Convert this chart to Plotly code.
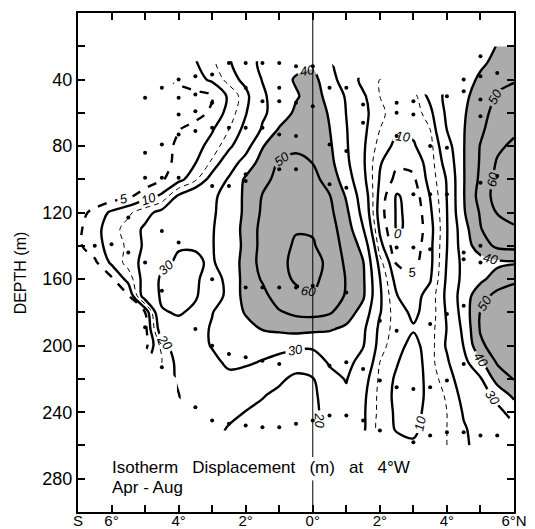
import plotly.graph_objects as go

# ---------------- data ----------------
lats = [-7.0, -6.5, -6.0, -5.5, -5.0, -4.5, -4.0, -3.5, -3.0, -2.5, -2.0, -1.5, -1.0,
        -0.5, 0.0, 0.5, 1.0, 1.5, 2.0, 2.5, 3.0, 3.5, 4.0, 4.5, 5.0, 5.5, 6.0]
depths = list(range(20, 270, 10))

# shallowest sampled depth of each latitude column (m)
top_depth = [110, 100, 60, 50, 50, 50, 40, 30, 30, 30, 30, 30, 30,
             30, 30, 30, 40, 40, 40, 50, 50, 50, 50, 40, 20, 20, 20]

# isotherm displacement (m) profiles, from top_depth downward every 10 m
p_s70 = [1, 3, 4, 4, 2]
p_s65 = [1, 1, 6.5, 8, 8, 4, 2]
p_s60 = [1, 1, 1, 1, 1, 2, 11, 13, 12, 11, 4, 1.5]
p_s55 = [1, 1, 1, 1, 1, 1.5, 4, 14, 17, 16, 17, 12, 4.5, 1]
p_s50 = [2, 2, 1.5, 1.5, 1.5, 2, 7.5, 18, 21, 21, 22, 23, 24.5, 5, 3, 3]
p_s45 = [3, 2, 2, 3, 3, 4.5, 11, 22, 24, 26, 28.5, 31.5, 31, 29.5, 25, 17, 15]
p_s40 = [6, 3, 2.5, 4.8, 6, 6.5, 8, 21, 25, 26.5, 29.5, 31, 33, 34, 30.5, 28, 25, 22, 21, 19.8]
p_s35 = [9.5, 8, 3.5, 3, 7, 8, 9.8, 14, 26, 27, 28, 29.5, 31, 31, 30.5, 29, 28, 27, 26, 25, 24, 22.5]
p_s30 = [14, 11, 4.5, 6, 9.5, 12, 16, 23, 28.5, 29, 29.5, 29.5, 29, 27, 27, 29.8, 30.5, 30.5, 28, 26.5, 25, 23, 22]
p_s25 = [19, 17, 11, 12, 15, 18.5, 25, 31, 33, 33.5, 34, 35, 35, 32, 31.5, 33, 33, 33, 31.5, 28, 24.5, 21.5, 19.5]
p_s20 = [26, 22, 18, 19.5, 22, 26, 34, 41.5, 42, 42, 43, 42, 43, 44, 44, 41, 36, 33, 31, 27, 23.5, 19.8, 18]
p_s15 = [32, 30.5, 28, 28.5, 31, 39.5, 44, 47, 50.5, 51.5, 53, 53.5, 54, 51, 47, 45, 40.5, 33, 29.5, 24.5, 20.5, 18, 17]
p_s10 = [35, 36, 36, 34, 41, 44, 51, 53, 55, 56, 57, 57.5, 58, 57.5, 55, 49, 42, 32, 28, 21.5, 18, 16.5, 16]
p_s05 = [37, 41, 39, 42, 45, 47, 54, 55, 57, 58, 59.5, 61, 62, 61, 58, 52, 43, 32, 24, 18, 16.5, 16, 16]
p_eq = [38, 43, 44, 46, 47, 48, 49.8, 53, 56, 58, 59, 61, 63, 62, 59.5, 53, 42, 31.5, 25, 19.5, 18, 17.5, 17.5]
p_n05 = [31, 34, 37, 39, 40.2, 41.5, 43, 46, 50.5, 52.5, 54, 55, 58, 57, 56, 51, 41, 33, 31, 27, 25, 24, 23.5]
p_n10 = [25, 29, 29.8, 30.5, 31, 32, 35, 39, 42, 45, 47, 48, 49.5, 49, 45, 38, 34, 32.5, 30.5, 28.5, 26.5, 25]
p_n15 = [18, 21, 22, 21.5, 21, 21, 22, 25, 27, 30.5, 37, 40.5, 41.5, 41.5, 36, 32, 30.5, 27, 23, 21.5, 21, 21]
p_n20 = [15, 15, 16, 15, 13, 10.5, 9.5, 8, 7, 9, 12, 17, 20.3, 21, 20.5, 18, 17, 15, 14, 13.5, 13.5, 13]
p_n25 = [13, 13, 11, 8.5, 6, 3.5, -0.5, -0.5, -0.5, 1, 4.5, 7.5, 10.2, 12, 13, 12, 10.5, 9, 8.5, 9, 9.5, 12]
p_n30 = [13, 12, 11, 9.5, 6.5, 4, 2, 1, 1, 2, 3.5, 6, 8, 9, 10.5, 8, 6, 5.5, 6, 7, 8, 11.5]
p_n35 = [22, 18, 15, 13, 12.5, 12, 10.2, 9, 8, 8.5, 8.5, 9.5, 12, 12, 13, 13, 13.5, 13, 12.5, 13, 14, 15]
p_n40 = [33, 32, 30.2, 26, 23, 20.5, 20.2, 19.8, 19.6, 19.8, 20.4, 21, 21.5, 20.8, 20.2, 20.8, 19, 17, 15.5, 15, 15, 15]
p_n45 = [35, 38, 39, 39.5, 39.6, 39.6, 39.5, 39.5, 39, 36, 35, 33, 33, 35, 34, 32, 30.3, 27, 24, 22, 20.5, 19.5, 19.5]
p_n50 = [35, 38, 42, 44, 46, 48, 50.5, 51, 52, 54, 51, 49.5, 45, 36, 38, 46, 50.5, 51, 48, 38, 29, 25, 23, 22, 21]
p_n55 = [40.5, 43, 47, 51, 54, 56, 58, 61, 63, 64, 60.5, 56, 52, 38, 44, 53, 55, 56, 55, 51, 44, 33, 27, 24]
p_n60 = [46, 47, 49, 54, 57, 58, 62, 64, 66, 68, 65, 58, 53, 39, 48, 55, 57, 58, 57, 54, 50.5, 42, 34]

profiles = [p_s70, p_s65, p_s60, p_s55, p_s50, p_s45, p_s40, p_s35, p_s30, p_s25, p_s20,
            p_s15, p_s10, p_s05, p_eq, p_n05, p_n10, p_n15, p_n20, p_n25, p_n30, p_n35,
            p_n40, p_n45, p_n50, p_n55, p_n60]

# sample (station) positions: latitude, depth
dot_lat = [-2.5, -2.0, -1.5, -1.0, -0.5, 0.0, -3.0, -3.5, -4.0, -4.5,
           -5.0, -4.0, -3.5, -3.0, -4.0, -3.5, -4.0, -3.5, -3.0, -2.5, -2.0, -1.5,
           -5.0, -4.5, -5.0, -4.5, -4.0, -3.0, -2.5, -2.0, -5.5, -4.5, -6.0, -6.5, -4.0,
           -2.0, -1.5, -1.0, -1.0, -0.5, 0.5, 1.0, -1.0, -0.5, 0.5, 1.0, -1.0, -0.5,
           -2.0, 0.5, 1.0, 0.0,
           -5.5, -5.0, -4.5, -3.0, -3.5, -3.0, -2.5, -2.0, -1.5, -1.0, -4.5, -3.5, -3.0,
           -2.5, -2.0, -1.5, -1.0, -0.5, -5.0, -2.0, -1.5, -1.0, -0.5,
           0.0, 0.5, 1.0, 1.5, 2.0, 2.5, 3.0, 3.5, 4.0, 2.0, 3.0, 3.5, 4.0, 4.5, 5.0, 5.5,
           0.5, 1.0, 1.5, 2.0, 2.5, 3.5, 4.0, 4.5, 4.5, 5.0, 4.5, 3.5, 0.0, 1.0,
           1.5, 2.5, 3.0, 2.5, 3.0, 4.0, 4.5, 4.5, 5.0, 5.0, 5.5,
           1.5, 2.5, 3.5, 4.0, 5.0, 5.0, 5.5, 3.0, 3.5, 4.0, 5.0, 2.5, 3.0, 4.5, 5.0]
dot_dep = [30, 30, 30, 30, 32, 32, 37, 38, 40, 45,
           51, 51, 49, 54, 61, 59, 73, 71, 69, 69, 69, 69,
           84, 79, 99, 99, 99, 104, 104, 101, 123, 131, 139, 140, 138,
           45, 53, 45, 53, 54, 45, 45, 73, 74, 79, 83, 94, 94,
           97, 103, 105, 56,
           144, 150, 167, 160, 190, 200, 205, 207, 209, 211, 213, 237, 245,
           247, 248, 249, 249, 247, 189, 165, 165, 165, 165,
           245, 242, 242, 245, 251, 225, 226, 225, 221, 221, 258, 254, 252, 252, 254, 254,
           212, 210, 214, 185, 191, 187, 181, 211, 176, 150, 148, 142, 164, 168,
           55, 54, 53, 60, 61, 50, 40, 47, 26, 38, 36,
           66, 74, 80, 81, 52, 62, 98, 109, 109, 109, 102, 141, 141, 144, 140]

# ---------------- build grid ----------------
z = [[None] * len(lats) for _ in depths]
for j, (t, prof) in enumerate(zip(top_depth, profiles)):
    i0 = depths.index(t)
    for k, v in enumerate(prof):
        z[i0 + k][j] = v

FONT = "Liberation Sans, Arial, sans-serif"
LABEL_FONT = dict(size=13, color="black", family=FONT, style="italic")
fig = go.Figure()

# stippled area (> 40 m): constraint shades the region outside "< 40"
fig.add_trace(go.Contour(
    x=lats, y=depths, z=z, connectgaps=False, showscale=False, hoverinfo="skip",
    contours=dict(type="constraint", operation="<", value=40),
    fillcolor="#ababab", line=dict(width=0, color="rgba(0,0,0,0)", smoothing=1)))

# 0 deg reference line
fig.add_trace(go.Scatter(x=[0, 0, None, 0, 0], y=[0, 267, None, 281, 300], mode="lines",
                         line=dict(color="black", width=1), hoverinfo="skip", showlegend=False))

# sample dots
fig.add_trace(go.Scatter(x=dot_lat, y=dot_dep, mode="markers",
                         marker=dict(color="black", size=4), hoverinfo="skip", showlegend=False))

# thin dashed 15 m isoline
fig.add_trace(go.Contour(
    x=lats, y=depths, z=z, connectgaps=False, showscale=False, hoverinfo="skip",
    contours=dict(coloring="none", start=15, end=15, size=1, showlabels=False),
    line=dict(color="black", width=1, dash="5px,4px", smoothing=1)))

# solid isolines 0..60
fig.add_trace(go.Contour(
    x=lats, y=depths, z=z, connectgaps=False, showscale=False, hoverinfo="skip",
    contours=dict(coloring="none", start=0, end=60, size=10, showlabels=True,
                  labelfont=LABEL_FONT),
    line=dict(color="black", width=2.4, smoothing=1)))

# dashed 5 m isoline
fig.add_trace(go.Contour(
    x=lats, y=depths, z=z, connectgaps=False, showscale=False, hoverinfo="skip",
    contours=dict(coloring="none", start=5, end=5, size=1, showlabels=True,
                  labelfont=LABEL_FONT),
    line=dict(color="black", width=2.4, dash="dash", smoothing=1)))

xt_vals = list(range(-7, 7))
xt_text = ["S", "6°", "", "4°", "", "2°", "", "0°", "", "2°", "", "4°", "", "6°N"]
yt_vals = list(range(20, 300, 20))
yt_text = [str(v) if v % 40 == 0 else "" for v in yt_vals]

SP = "\u00a0\u00a0\u00a0"
fig.update_layout(
    width=535, height=529, margin=dict(l=78, r=21, t=13, b=17, autoexpand=False),
    paper_bgcolor="white", plot_bgcolor="white", showlegend=False,
    font=dict(family=FONT, size=18, color="black"),
    xaxis=dict(range=[-7, 6], tickmode="array", tickvals=xt_vals, ticktext=xt_text,
               ticks="inside", ticklen=7, tickwidth=2, tickcolor="black",
               showline=True, linewidth=2, linecolor="black", mirror="ticks",
               showgrid=False, zeroline=False, tickfont=dict(size=15), automargin=False,
               ticklabelstandoff=-6),
    yaxis=dict(range=[300, 0], tickmode="array", tickvals=yt_vals, ticktext=yt_text,
               ticks="inside", ticklen=7, tickwidth=2, tickcolor="black",
               showline=True, linewidth=2, linecolor="black", mirror="ticks",
               showgrid=False, zeroline=False, tickfont=dict(size=18), automargin=False),
    annotations=[
        dict(text="DEPTH (m)", xref="paper", yref="paper", x=-0.131, y=0.48,
             textangle=-90, showarrow=False, font=dict(size=16), xanchor="center", yanchor="middle"),
        dict(text="Isotherm" + SP + "Displacement" + SP + "(m)" + SP + "at" + SP + "4°W",
             x=-6.06, y=273.5, xref="x", yref="y", showarrow=False,
             xanchor="left", yanchor="middle", font=dict(size=17)),
        dict(text="Apr - Aug", x=-6.06, y=285, xref="x", yref="y", showarrow=False,
             xanchor="left", yanchor="middle", font=dict(size=17)),
    ],
)

fig.write_html("out.html")
